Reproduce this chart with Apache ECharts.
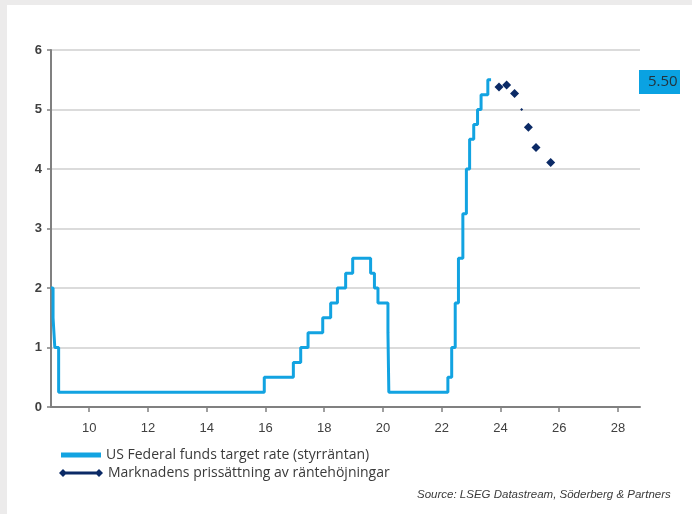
<!DOCTYPE html>
<html>
<head>
<meta charset="utf-8">
<script src="https://cdn.jsdelivr.net/npm/echarts@6/dist/echarts.min.js"></script>
<style>
  html, body { margin: 0; padding: 0; width: 692px; height: 514px; background: #ecebeb; overflow: hidden; }
  #panel { position: absolute; left: 7px; top: 5px; right: 0; bottom: 0; background: #ffffff; }
  #chart { position: absolute; left: 0; top: 0; width: 692px; height: 514px; }
</style>
</head>
<body>
<div id="panel"></div>
<div id="chart"></div>
<script>
// Fed funds target rate (upper bound), x = year - 2000
const rateDates  = [8.70, 8.77, 8.83, 8.96, 15.96, 16.95, 17.20, 17.45, 17.95, 18.22, 18.45, 18.73, 18.97, 19.58, 19.71, 19.83, 20.17, 20.20, 22.21, 22.34, 22.46, 22.57, 22.72, 22.84, 22.95, 23.09, 23.22, 23.34, 23.57, 23.68];
const rateValues = [2.00, 1.50, 1.00, 0.25, 0.50, 0.75, 1.00, 1.25, 1.50, 1.75, 2.00, 2.25, 2.50, 2.25, 2.00, 1.75, 1.25, 0.25, 0.50, 1.00, 1.75, 2.50, 3.25, 4.00, 4.50, 4.75, 5.00, 5.25, 5.50, 5.50];

// Market pricing of future rate path
const marketDates  = [23.95, 24.21, 24.48, 24.72, 24.95, 25.21, 25.71];
const marketValues = [5.38, 5.41, 5.27, 5.00, 4.70, 4.36, 4.11];

const xTickValues = [10, 12, 14, 16, 18, 20, 22, 24, 26, 28];

const seriesNames = ['US Federal funds target rate (styrräntan)', 'Marknadens prissättning av räntehöjningar'];
const latestLabel = '5.50';
const sourceText = 'Source: LSEG Datastream, Söderberg & Partners';

const FONT = '"Liberation Sans", Arial, sans-serif';
const LEG_FONT = '"Open Sans", "Liberation Sans", sans-serif';
const LIGHT = '#12a3e1';
const NAVY = '#0b2a66';

const chart = echarts.init(document.getElementById('chart'), null, { renderer: 'canvas' });
chart.setOption({
  backgroundColor: 'transparent',
  animation: false,
  grid: { left: 51, right: 52, top: 50, bottom: 107 },
  xAxis: {
    type: 'value',
    min: 8.7,
    max: 28.75,
    axisLine: { show: true, lineStyle: { color: '#808080', width: 2 } },
    axisTick: { show: true, length: 5, customValues: xTickValues, lineStyle: { color: '#808080', width: 1.5 } },
    axisLabel: { customValues: xTickValues, color: '#404040', fontSize: 13, fontFamily: FONT, margin: 15 },
    splitLine: { show: false }
  },
  yAxis: {
    type: 'value',
    min: 0,
    max: 6,
    interval: 1,
    axisLine: { show: true, lineStyle: { color: '#808080', width: 2 } },
    axisTick: { show: true, length: 4, lineStyle: { color: '#808080', width: 1.5 } },
    axisLabel: { color: '#404040', fontSize: 13, fontFamily: FONT, margin: 9, fontWeight: 'bold', padding: [7, 0, 0, 0] },
    splitLine: { show: true, lineStyle: { color: '#cfcfcf', width: 1.5 } }
  },
  legend: [
    {
      data: [{ name: seriesNames[0], icon: 'rect', itemStyle: { color: LIGHT } }],
      left: 56, top: 443,
      itemWidth: 40, itemHeight: 5, itemGap: 5,
      textStyle: { color: '#3a3a3a', fontSize: 14, fontFamily: LEG_FONT, padding: [5, 0, 0, 0] },
      selectedMode: false
    },
    {
      data: [{ name: seriesNames[1], icon: 'path://M0,4 L4,0 L8,4 L4,8 Z M4,2.5 L40,2.5 L40,5.5 L4,5.5 Z M36,4 L40,0 L44,4 L40,8 Z', itemStyle: { color: NAVY } }],
      left: 54, top: 461,
      itemWidth: 44, itemHeight: 8, itemGap: 5,
      textStyle: { color: '#3a3a3a', fontSize: 14, fontFamily: LEG_FONT, padding: [5, 0, 0, 0] },
      selectedMode: false
    }
  ],
  series: [
    {
      name: seriesNames[0],
      type: 'line',
      step: 'end',
      data: rateDates.map((d, i) => [d, rateValues[i]]),
      showSymbol: false,
      color: LIGHT,
      lineStyle: { color: LIGHT, width: 3 },
      z: 3
    },
    {
      name: seriesNames[1],
      type: 'scatter',
      data: marketDates.map((d, i) => [d, marketValues[i]]),
      symbol: 'diamond',
      symbolSize: (val, params) => params.dataIndex === 3 ? [3, 3] : [9, 9],
      color: NAVY,
      itemStyle: { color: NAVY, opacity: 1 },
      z: 4
    }
  ],
  graphic: [
    {
      type: 'rect',
      left: 639, top: 70,
      shape: { width: 41, height: 24 },
      style: { fill: '#0aa2e2' },
      z: 10
    },
    {
      type: 'text',
      left: 648, top: 74,
      style: {
        text: latestLabel,
        font: '15px ' + LEG_FONT,
        fill: '#23333d'
      },
      z: 11
    },
    {
      type: 'text',
      left: 417, top: 489,
      style: {
        text: sourceText,
        font: 'italic 11.5px ' + FONT,
        fill: '#3a3a3a'
      }
    }
  ]
});
</script>
</body>
</html>
